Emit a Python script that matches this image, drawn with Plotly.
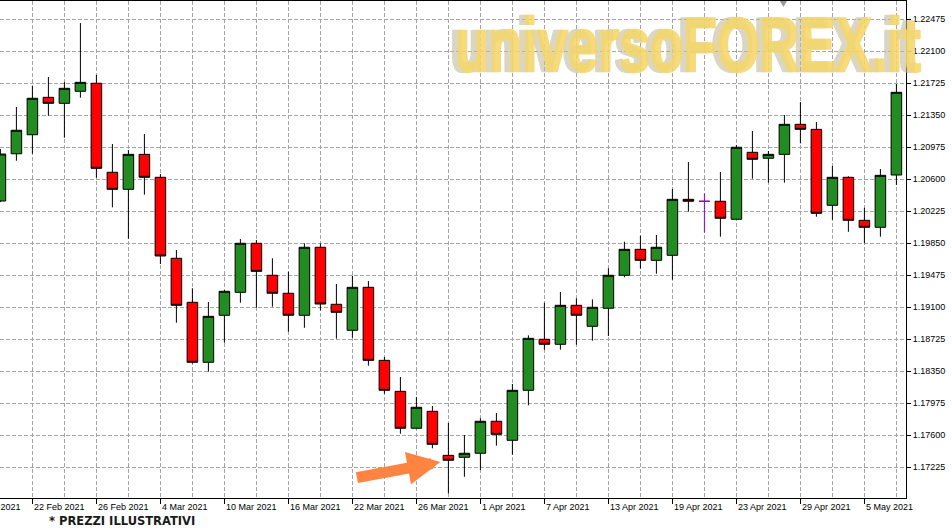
import plotly.graph_objects as go

# ---------------- data ----------------
dates = ["18 Feb", "19 Feb", "22 Feb", "23 Feb", "24 Feb", "25 Feb", "26 Feb",
         "1 Mar", "2 Mar", "3 Mar", "4 Mar", "5 Mar", "8 Mar", "9 Mar", "10 Mar",
         "11 Mar", "12 Mar", "15 Mar", "16 Mar", "17 Mar", "18 Mar", "19 Mar",
         "22 Mar", "23 Mar", "24 Mar", "25 Mar", "26 Mar", "29 Mar", "30 Mar",
         "31 Mar", "1 Apr", "2 Apr", "5 Apr", "6 Apr", "7 Apr", "8 Apr", "9 Apr",
         "12 Apr", "13 Apr", "14 Apr", "15 Apr", "16 Apr", "19 Apr", "20 Apr",
         "21 Apr", "22 Apr", "23 Apr", "26 Apr", "27 Apr", "28 Apr", "29 Apr",
         "30 Apr", "3 May", "4 May", "5 May", "6 May", "7 May"]

opens = [1.20342, 1.20896, 1.21119, 1.21557, 1.21487, 1.21628, 1.21722, 1.20679,
         1.20479, 1.20889, 1.20620, 1.19671, 1.19155, 1.18452, 1.19003, 1.19272,
         1.19847, 1.19472, 1.19261, 1.19003, 1.19800, 1.19132, 1.18827, 1.19331,
         1.18475, 1.18112, 1.17679, 1.17878, 1.17362, 1.17339, 1.17386, 1.17761,
         1.17538, 1.18124, 1.18722, 1.18663, 1.19120, 1.18874, 1.19085, 1.19472,
         1.19776, 1.19647, 1.19706, 1.20362, 1.20339, 1.20339, 1.20128, 1.20913,
         1.20843, 1.20889, 1.21241, 1.21182, 1.20292, 1.20620, 1.20116, 1.20034,
         1.20647]
highs = [1.20952, 1.21444, 1.21690, 1.21795, 1.21737, 1.22428, 1.21819, 1.21010,
         1.20940, 1.21127, 1.20659, 1.19768, 1.19319, 1.19159, 1.19299, 1.19897,
         1.19885, 1.19671, 1.19514, 1.19847, 1.19845, 1.19370, 1.19467, 1.19405,
         1.18514, 1.18280, 1.18045, 1.17940, 1.17741, 1.17600, 1.17796, 1.17858,
         1.18198, 1.18768, 1.19150, 1.19276, 1.19202, 1.19190, 1.19554, 1.19865,
         1.19936, 1.19944, 1.20483, 1.20799, 1.20432, 1.20682, 1.20998, 1.21163,
         1.20928, 1.21350, 1.21502, 1.21268, 1.20752, 1.20632, 1.20264, 1.20717,
         1.21713]
lows = [1.20330, 1.20814, 1.20896, 1.21342, 1.21084, 1.21553, 1.20615, 1.20268,
        1.19900, 1.20416, 1.19604, 1.18916, 1.18436, 1.18342, 1.18682, 1.19150,
        1.19092, 1.19104, 1.18811, 1.18857, 1.19061, 1.18729, 1.18740, 1.18412,
        1.18084, 1.17615, 1.17670, 1.17444, 1.16917, 1.17111, 1.17190, 1.17475,
        1.17369, 1.17948, 1.18600, 1.18600, 1.18658, 1.18705, 1.18760, 1.19448,
        1.19549, 1.19490, 1.19420, 1.20217, 1.19971, 1.19924, 1.20128, 1.20604,
        1.20557, 1.20557, 1.21018, 1.20158, 1.20123, 1.19982, 1.19847, 1.19924,
        1.20530]
closes = [1.20893, 1.21171, 1.21546, 1.21487, 1.21663, 1.21733, 1.20725, 1.20479,
          1.20889, 1.20620, 1.19698, 1.19120, 1.18452, 1.18991, 1.19284, 1.19847,
          1.19518, 1.19261, 1.19003, 1.19800, 1.19135, 1.19038, 1.19331, 1.18475,
          1.18124, 1.17679, 1.17925, 1.17491, 1.17304, 1.17386, 1.17761, 1.17608,
          1.18124, 1.18733, 1.18663, 1.19120, 1.19003, 1.19097, 1.19472, 1.19776,
          1.19647, 1.19800, 1.20362, 1.20339, 1.20339, 1.20140, 1.20972, 1.20831,
          1.20889, 1.21241, 1.21182, 1.20198, 1.20620, 1.20116, 1.20034, 1.20643,
          1.21616]

highlight_bar = 44  # bar drawn in violet (current/selected)

x_tick_idx = [-2, 2, 6, 10, 14, 18, 22, 26, 30, 34, 38, 42, 46, 50, 54]
x_tick_labels = ["16 Feb 2021", "22 Feb 2021", "26 Feb 2021", "4 Mar 2021",
                 "10 Mar 2021", "16 Mar 2021", "22 Mar 2021", "26 Mar 2021",
                 "1 Apr 2021", "7 Apr 2021", "13 Apr 2021", "19 Apr 2021",
                 "23 Apr 2021", "29 Apr 2021", "5 May 2021"]

y_tick_vals = [1.17225, 1.17600, 1.17975, 1.18350, 1.18725, 1.19100, 1.19475,
               1.19850, 1.20225, 1.20600, 1.20975, 1.21350, 1.21725, 1.22100,
               1.22475]
y_tick_labels = ["%.5f" % v for v in y_tick_vals]

# ---------------- figure ----------------
xs = list(range(len(dates)))
main_idx = [i for i in xs if i != highlight_bar]

GREEN = "#228B22"
RED = "#FF0000"
GRID = "#a4a4a4"
AXFONT = dict(family="Tahoma, Liberation Sans, Arial, sans-serif", size=9, color="black")

fig = go.Figure()
fig.add_trace(go.Candlestick(
    x=[xs[i] for i in main_idx],
    open=[opens[i] for i in main_idx],
    high=[highs[i] for i in main_idx],
    low=[lows[i] for i in main_idx],
    close=[closes[i] for i in main_idx],
    increasing=dict(fillcolor=GREEN, line=dict(color="black", width=1)),
    decreasing=dict(fillcolor=RED, line=dict(color="black", width=1)),
    whiskerwidth=0,
    hoverinfo="skip",
    showlegend=False,
))
fig.add_trace(go.Candlestick(
    x=[xs[highlight_bar]],
    open=[opens[highlight_bar]],
    high=[highs[highlight_bar]],
    low=[lows[highlight_bar]],
    close=[closes[highlight_bar]],
    increasing=dict(fillcolor="#9400D3", line=dict(color="#9400D3", width=1)),
    decreasing=dict(fillcolor="#9400D3", line=dict(color="#9400D3", width=1)),
    whiskerwidth=0,
    hoverinfo="skip",
    showlegend=False,
))

PX_PER_BAR = 16
annotations = []
for idx, lab in zip(x_tick_idx, x_tick_labels):
    anchor = max(idx, 0)
    annotations.append(dict(
        x=anchor, xref="x", y=0, yref="paper",
        text=lab, showarrow=False, xanchor="left", yanchor="middle",
        xshift=(idx - anchor) * PX_PER_BAR, yshift=-9, font=AXFONT,
    ))

# watermark (shadow + face)
wm_text = "universoFOREX.it"
wm_font_family = "Liberation Sans, Arial, sans-serif"
annotations.append(dict(
    x=0.757, y=0.913, xref="paper", yref="paper", text=wm_text, showarrow=False,
    xanchor="center", yanchor="middle", xshift=-4, opacity=0.6,
    font=dict(family=wm_font_family, size=76, weight=700, color="#C4BC9C"),
))
annotations.append(dict(
    x=0.759, y=0.913, xref="paper", yref="paper", text=wm_text, showarrow=False,
    xanchor="center", yanchor="middle", opacity=0.88,
    font=dict(family=wm_font_family, size=76, weight=700, color="#F5D66A"),
))

# arrow pointing at the low area
annotations.append(dict(
    x=27.5, y=1.17284, xref="x", yref="y", text="", showarrow=True,
    ax=-85, ay=16, arrowhead=2, arrowsize=0.6, arrowwidth=11,
    arrowcolor="#FF8442", standoff=0,
))

# footnote
annotations.append(dict(
    x=0.052, y=-0.046, xref="paper", yref="paper", text="* PREZZI ILLUSTRATIVI",
    showarrow=False, xanchor="left", yanchor="middle",
    font=dict(family="Verdana, DejaVu Sans, Liberation Sans, sans-serif", size=11.5,
              weight=700, color="#1a1a1a"),
))

fig.update_layout(
    width=952, height=530,
    margin=dict(l=0, r=46, t=1, b=32, autoexpand=False),
    paper_bgcolor="white", plot_bgcolor="white",
    boxgap=0.34, boxgroupgap=0,
    showlegend=False,
    annotations=annotations,
    shapes=[dict(type="path", xref="x", yref="paper",
                 path="M 48.72 1.0 L 49.16 1.0 L 48.94 0.988 Z",
                 fillcolor="#999999", line=dict(width=0))],
    xaxis=dict(
        range=[-0.025, 56.6],
        rangeslider=dict(visible=False),
        tickmode="array", tickvals=x_tick_idx, ticktext=[""] * len(x_tick_idx),
        ticks="outside", ticklen=5, tickcolor="black", tickwidth=1,
        showgrid=True, gridcolor=GRID, griddash="4px,2px", gridwidth=1,
        minor=dict(tickmode="array", tickvals=list(range(0, len(dates), 2)),
                   showgrid=True, gridcolor=GRID, griddash="4px,2px", gridwidth=1,
                   ticks=""),
        showline=True, linecolor="black", linewidth=1, mirror=True,
        zeroline=False, fixedrange=True,
    ),
    yaxis=dict(
        range=[1.16862, 1.22686],
        side="right",
        tickmode="array", tickvals=y_tick_vals, ticktext=y_tick_labels,
        ticks="outside", ticklen=4, tickcolor="black", tickwidth=1,
        tickfont=AXFONT,
        showgrid=True, gridcolor=GRID, griddash="4px,2px", gridwidth=1,
        showline=True, linecolor="black", linewidth=1,
        zeroline=False, fixedrange=True,
    ),
)

post_js = """
document.body.style.margin = '0';
document.querySelectorAll('text.annotation-text').forEach(function (t) {
  if (t.textContent === 'universoFOREX.it') {
    t.style.transformBox = 'fill-box';
    t.style.transformOrigin = 'center';
    t.style.transform = 'scaleX(0.72)';
    t.style.stroke = t.style.fill;
    t.style.strokeWidth = '2.5px';
    t.style.strokeLinejoin = 'round';
  }
});
"""

fig.write_html("out.html", post_script=post_js, config={"displayModeBar": False})
